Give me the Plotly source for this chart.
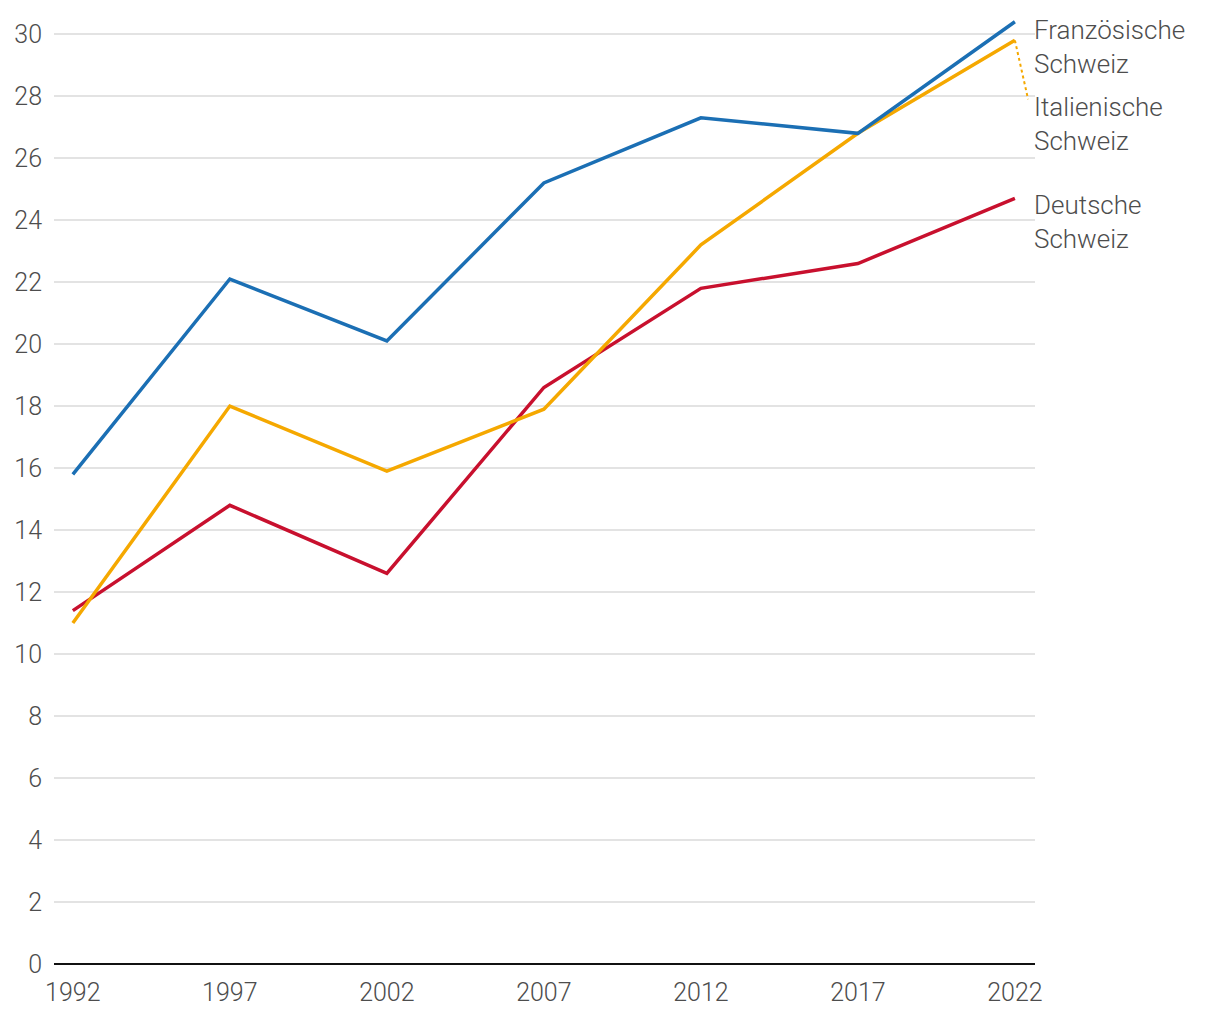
import plotly.graph_objects as go

years = [1992, 1997, 2002, 2007, 2012, 2017, 2022]
fr_values = [15.8, 22.1, 20.1, 25.2, 27.3, 26.8, 30.4]
it_values = [11.0, 18.0, 15.9, 17.9, 23.2, 26.8, 29.8]
de_values = [11.4, 14.8, 12.6, 18.6, 21.8, 22.6, 24.7]
series_names = ["Französische<br>Schweiz", "Italienische<br>Schweiz", "Deutsche<br>Schweiz"]
label_y = [29.6, 27.1, 23.95]
y_ticks = list(range(0, 31, 2))

colors = ["#1b6fb4", "#f5a800", "#c8102e"]
FONT = "Roboto"
TXT = "#4d4d4d"

fig = go.Figure()
for vals, col in zip([de_values, it_values, fr_values], [colors[2], colors[1], colors[0]]):
    fig.add_trace(go.Scatter(x=years, y=vals, mode="lines", cliponaxis=False,
                             line=dict(color=col, width=3.5), hoverinfo="skip", showlegend=False))

# leader line for Italienische Schweiz label
fig.add_trace(go.Scatter(x=[years[-1], years[-1] + 0.42], y=[it_values[-1], label_y[1] + 0.8],
                         mode="lines", line=dict(color=colors[1], width=2, dash="dot"),
                         hoverinfo="skip", showlegend=False))

for name, ly in zip(series_names, label_y):
    fig.add_annotation(x=1.0, xref="paper", y=ly, yref="y", text=name, showarrow=False,
                       xanchor="left", yanchor="middle", align="left", xshift=-3,
                       font=dict(family=FONT, size=26, color=TXT, weight=300))

fig.update_layout(
    width=1212, height=1012,
    margin=dict(l=46, r=185, t=6, b=56),
    paper_bgcolor="white", plot_bgcolor="white",
    font=dict(family=FONT, size=25, color=TXT, weight=300),
    xaxis=dict(range=[1991.4, 2022.64], tickvals=years, ticktext=[str(y) for y in years],
               showgrid=False, zeroline=False, showline=False, ticks="", automargin=False,
               ticklabelstandoff=11, tickfont=dict(family=FONT, size=25, color=TXT, weight=300)),
    yaxis=dict(range=[0, 30.65], tickvals=y_ticks, showgrid=True, gridcolor="#e3e3e3", gridwidth=1.5,
               zeroline=True, zerolinecolor="#111111", zerolinewidth=2, automargin=False,
               showline=False, ticks="", ticklabelstandoff=11,
               tickfont=dict(family=FONT, size=25, color=TXT, weight=300)),
)

fig.write_html("out.html")
